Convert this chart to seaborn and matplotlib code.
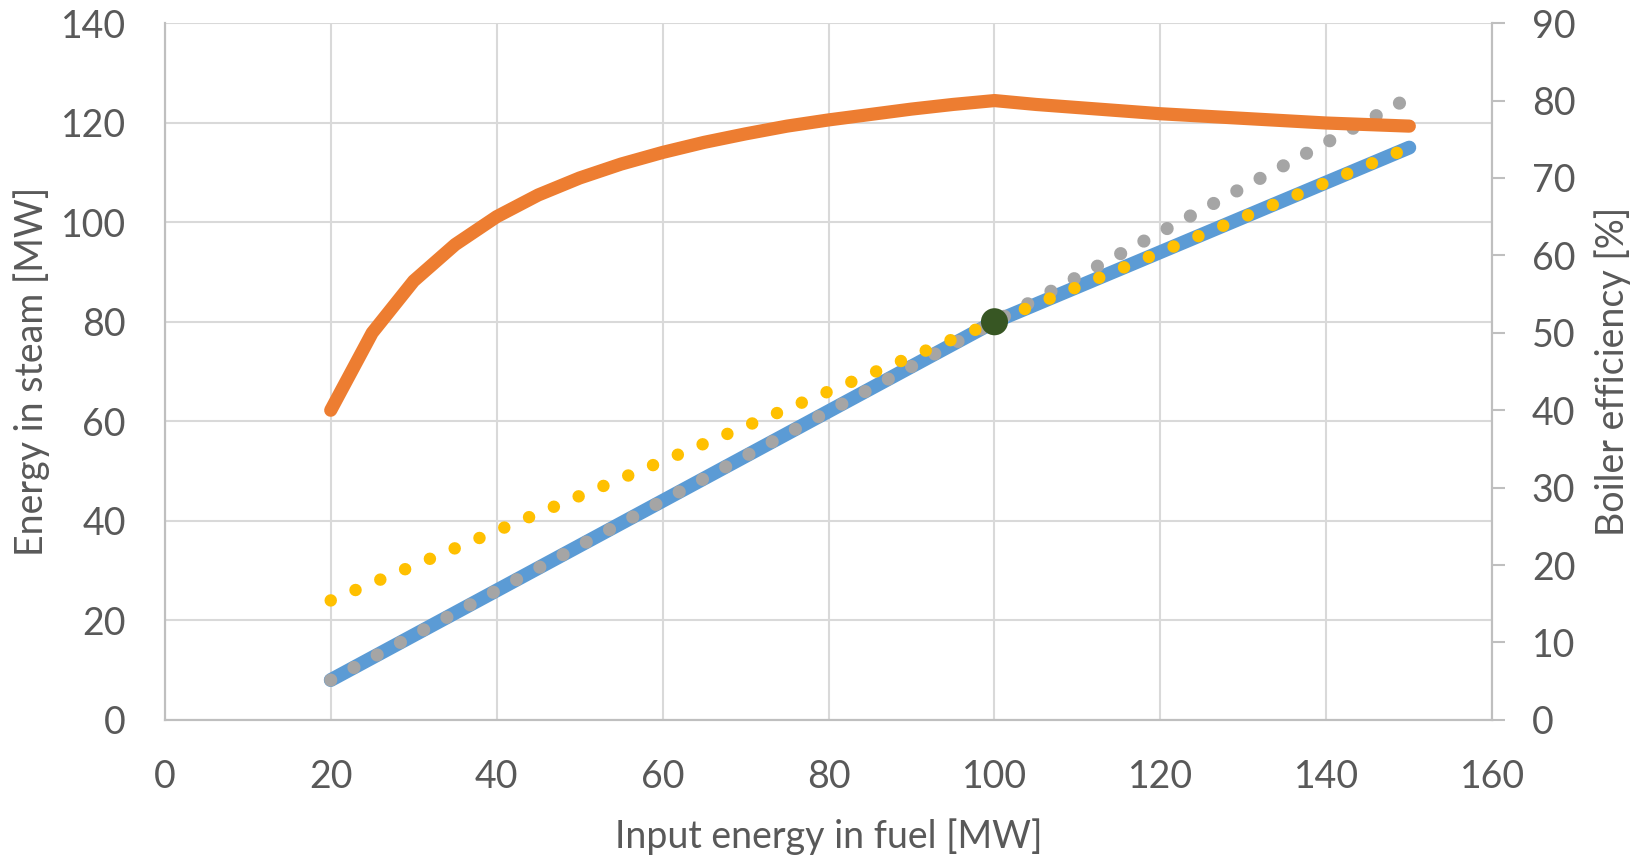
import seaborn as sns
from matplotlib import pyplot as plt

# fuel input [MW] and the matching steam output / efficiency
fuel_in = [20, 25, 30, 35, 40, 45, 50, 55, 60, 65, 70, 75, 80, 85, 90, 95, 100,
           105, 110, 115, 120, 125, 130, 135, 140, 145, 150]
steam_out = [8, 12.5, 17, 21.5, 26, 30.5, 35, 39.5, 44, 48.5, 53, 57.5, 62, 66.5,
             71, 75.5, 80, 83.5, 87, 90.5, 94, 97.5, 101, 104.5, 108, 111.5, 115]
efficiency = [40.0, 50.0, 56.7, 61.4, 65.0, 67.8, 70.0, 71.8, 73.3, 74.6, 75.7,
              76.7, 77.5, 78.2, 78.9, 79.5, 80.0, 79.5, 79.1, 78.7, 78.3, 78.0,
              77.7, 77.4, 77.1, 76.9, 76.7]

# dotted reference lines (start / end)
gray_x = [20, 149]
gray_y = [8, 124.1]
yellow_x = [20, 150]
yellow_y = [24, 115]

# design point
design_x = [100]
design_y = [80]

x_ticks = [0, 20, 40, 60, 80, 100, 120, 140, 160]
left_ticks = [0, 20, 40, 60, 80, 100, 120, 140]
right_ticks = [0, 10, 20, 30, 40, 50, 60, 70, 80, 90]

sns.set_theme(style="white")
plt.rcParams['font.family'] = ['Lato', 'DejaVu Sans']
txt = '#595959'
fs = 27

fig = plt.figure(figsize=(16.48, 8.58), dpi=100)
ax1 = fig.add_axes([0.100, 0.161, 0.8055, 0.812])
ax2 = ax1.twinx()

sns.lineplot(x=fuel_in, y=steam_out, ax=ax1, color='#5B9BD5', lw=10,
             solid_capstyle='round', zorder=2)
sns.lineplot(x=gray_x, y=gray_y, ax=ax1, color='#A5A5A5', lw=9.5,
             linestyle=(0, (0.001, 2.0)), dash_capstyle='round', zorder=3)
sns.lineplot(x=yellow_x, y=yellow_y, ax=ax1, color='#FFC000', lw=9,
             linestyle=(0, (0.001, 2.15)), dash_capstyle='round', zorder=4)
sns.scatterplot(x=design_x, y=design_y, ax=ax1, color='#375623', s=380,
                edgecolor='none', zorder=5)
sns.lineplot(x=fuel_in, y=efficiency, ax=ax2, color='#ED7D31', lw=9.5,
             solid_capstyle='round')

ax1.set_xlim(0, 160)
ax1.set_ylim(0, 140)
ax2.set_ylim(0, 90)
ax1.set_xticks(x_ticks)
ax1.set_yticks(left_ticks)
ax2.set_yticks(right_ticks)

ax1.grid(True, color='#D9D9D9', lw=1.5)
ax2.grid(False)
ax1.spines['top'].set_visible(False)
ax2.spines['top'].set_visible(False)
for ax in (ax1, ax2):
    for sp in ['left', 'bottom', 'right']:
        ax.spines[sp].set_color('#BFBFBF')
        ax.spines[sp].set_linewidth(1.5)

ax1.tick_params(axis='x', length=0, pad=28, labelsize=fs, labelcolor=txt)
ax1.tick_params(axis='y', length=0, pad=28, labelsize=fs, labelcolor=txt)
ax2.tick_params(axis='y', length=9.5, width=1.5, color='#BFBFBF', pad=19,
                labelsize=fs, labelcolor=txt)

ax1.set_xlabel('Input energy in fuel [MW]', fontsize=fs, color=txt)
ax1.set_ylabel('Energy in steam [MW]', fontsize=fs, color=txt)
ax2.set_ylabel('Boiler efficiency [%]', fontsize=fs, color=txt)
ax1.xaxis.set_label_coords(0.5, -0.168)
ax1.xaxis.label.set_va('center')
ax1.yaxis.set_label_coords(-0.1006, 0.5)
ax1.yaxis.label.set_va('center')
ax2.yaxis.set_label_coords(1.0904, 0.5)
ax2.yaxis.label.set_va('center')

fig.savefig('out.png', dpi=100)
